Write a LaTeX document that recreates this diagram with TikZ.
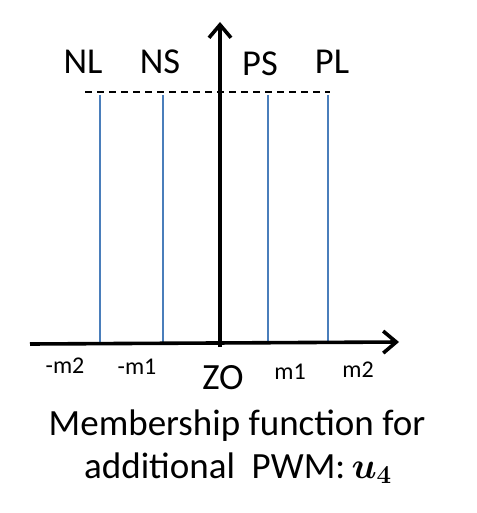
\RequirePackage{fix-cm}
\documentclass[tikz,border=0pt]{standalone}
\usepackage{amsmath,bm}
\usepackage{fontspec}
\setmainfont{Carlito}
\usetikzlibrary{arrows.meta}
\definecolor{mfblue}{HTML}{4A7EBB}
\tikzset{
  axis/.style={line width=3.6pt,-{Straight Barb[length=13pt,width=22pt]}},
  mfline/.style={mfblue,line width=2pt},
  setlabel/.style={anchor=base,font=\fontsize{36.5}{40}\selectfont,inner sep=0pt},
  ticklabel/.style={anchor=base,font=\fontsize{24}{28}\selectfont,inner sep=0pt},
  caption/.style={anchor=base,font=\fontsize{37}{42}\selectfont,inner sep=0pt}
}
\begin{document}
\begin{tikzpicture}[x=1pt,y=-1pt]
\useasboundingbox (0,0) rectangle (476,513);
% coordinates
\coordinate (dl) at (85,92);
\coordinate (dr) at (330,92);
\coordinate (vb) at (220,347);
\coordinate (vt) at (220,22);
\coordinate (hl) at (30,344);
\coordinate (hr) at (399,342);
\foreach \n/\x in {a/100,b/163,c/268,d/328}{
  \coordinate (\n t) at (\x,95);
  \coordinate (\n b) at (\x,343);
}
% dashed top
\draw[line width=1.1pt,dash pattern=on 7pt off 5pt] (dl) -- (dr);
% blue lines
\foreach \n in {a,b,c,d}{ \draw[mfline] (\n t) -- (\n b); }
% axes
\draw[axis] (hl) -- (hr);
\draw[axis] (vb) -- (vt);
% labels
\node[setlabel] (nl) at (83,74) {NL};
\node[setlabel] (ns) at (160,74) {NS};
\node[setlabel] (ps) at (260,76) {PS};
\node[setlabel] (pl) at (332,74) {PL};
\node[ticklabel] (mm2) at (65,373) {-m2};
\node[ticklabel] (mm1) at (137,374) {-m1};
\node[ticklabel] (m1) at (290,379) {m1};
\node[ticklabel] (m2) at (358,377) {m2};
\node[anchor=base,font=\fontsize{37}{40}\selectfont,inner sep=0pt] (zo) at (223,389) {ZO};
\node[caption] (c1) at (237,435) {Membership function for};
\node[caption] (c2) at (238,478) {additional\ \ PWM:\,$\bm{u}_{\bm{4}}$};
\end{tikzpicture}
\end{document}
